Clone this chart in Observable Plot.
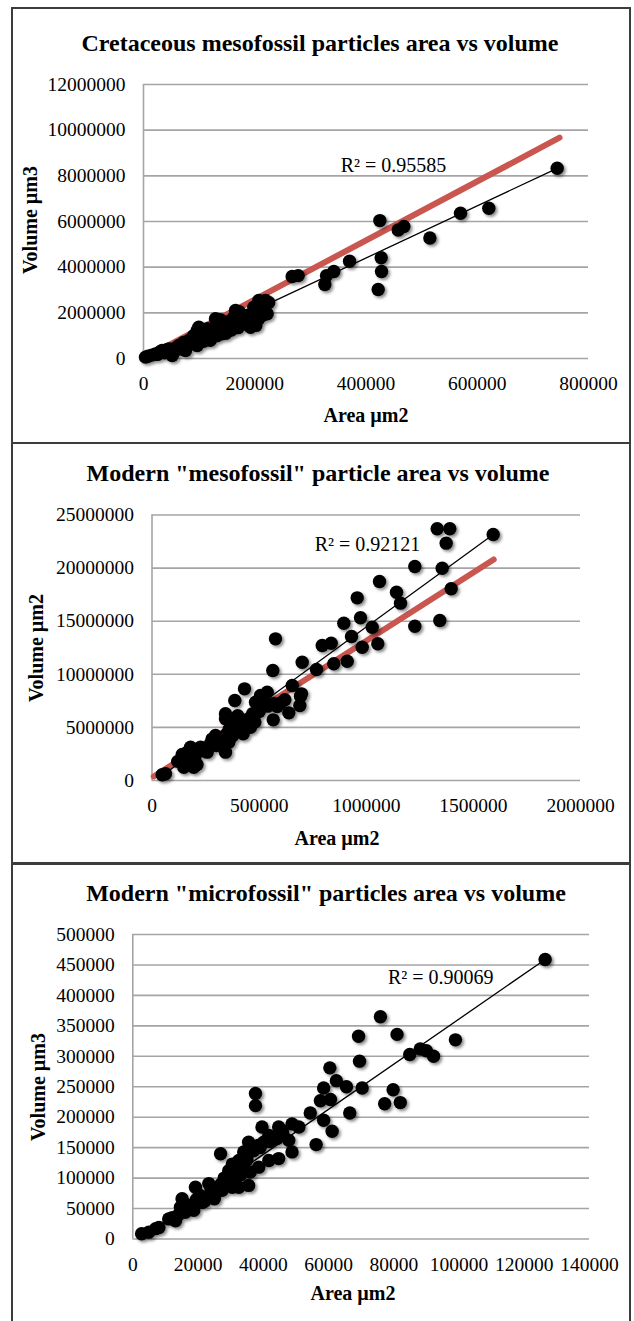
<!DOCTYPE html>
<html><head><meta charset="utf-8">
<script src="https://cdn.jsdelivr.net/npm/d3@7"></script>
<script src="https://cdn.jsdelivr.net/npm/@observablehq/plot@0.6"></script>
<style>
html,body{margin:0;padding:0;background:#fff}
body{width:634px;height:1321px;position:relative;overflow:hidden;font-family:"Liberation Serif","Times New Roman",serif;color:#000}
.frame{position:absolute;left:11px;width:620px;border:2px solid #3c3c3c;box-sizing:border-box}
.title{position:absolute;font-weight:bold;font-size:24px;white-space:nowrap;transform:translate(-50%,-50%)}
.xt{position:absolute;font-weight:bold;font-size:20px;white-space:nowrap;transform:translate(-50%,-50%)}
.yt{position:absolute;font-weight:bold;font-size:20px;white-space:nowrap;transform:translate(-50%,-50%) rotate(-90deg)}
.chart{position:absolute;left:0}
.chart svg, .chart svg g, .chart svg text{font-family:"Liberation Serif","Times New Roman",serif !important;font-variant:normal !important;font-variant-numeric:normal !important}
.chart g[aria-label="dot"]{filter:drop-shadow(2px 2.5px 1.5px rgba(0,0,0,0.45))}
</style>
</head><body>
<div class="frame" style="top:7px;height:437px"></div>
<div class="frame" style="top:442px;height:423px"></div>
<div class="frame" style="top:862px;height:480px"></div>
<div id="c1" class="chart" style="top:60px"></div>
<div id="c2" class="chart" style="top:490px"></div>
<div id="c3" class="chart" style="top:910px"></div>
<div class="title" style="left:320px;top:43px">Cretaceous mesofossil particles area vs volume</div>
<div class="title" style="left:318px;top:473px">Modern "mesofossil" particle area vs volume</div>
<div class="title" style="left:326px;top:893px">Modern "microfossil" particles area vs volume</div>
<div class="xt" style="left:366px;top:415px">Area µm2</div>
<div class="xt" style="left:337px;top:838px">Area µm2</div>
<div class="xt" style="left:353px;top:1293px">Area µm2</div>
<div class="yt" style="left:30px;top:220px">Volume µm3</div>
<div class="yt" style="left:36px;top:648px">Volume µm2</div>
<div class="yt" style="left:38px;top:1087px">Volume µm3</div>
<script>
// ---- Panel 1: Cretaceous mesofossil ----
const area1 = [3600, 8000, 15000, 21600, 25000, 28000, 30000, 33600, 38000, 40000, 42000, 45500, 50000, 51600, 55000, 58000, 60000, 63500, 66000, 70000, 72000, 75500, 78000, 81400, 85000, 88000, 90000, 93000, 96500, 96500, 99400, 100000, 102000, 105000, 108000, 111500, 115000, 118000, 120000, 123500, 126000, 129400, 132000, 135000, 138000, 141400, 145000, 148000, 150000, 153400, 158000, 160000, 162000, 165400, 168400, 170000, 172000, 175000, 178000, 183400, 185000, 188000, 192300, 195000, 198300, 200000, 202000, 207300, 207300, 212000, 215000, 219300, 222300, 225000, 267300, 278100, 326000, 329000, 342100, 370400, 421900, 424900, 427300, 427900, 457900, 468000, 514800, 569900, 620800, 743700];
const vol1 = [60000, 100000, 150000, 200000, 180000, 250000, 300000, 350000, 250000, 300000, 380000, 420000, 400000, 130000, 300000, 450000, 500000, 570000, 420000, 600000, 700000, 350000, 550000, 790000, 650000, 850000, 1000000, 800000, 570000, 1230000, 1370000, 900000, 1100000, 1200000, 750000, 1000000, 1300000, 1100000, 800000, 930000, 1200000, 1740000, 1000000, 1500000, 1700000, 1080000, 1300000, 1100000, 1600000, 1370000, 1250000, 1500000, 1800000, 2100000, 1810000, 1350000, 2050000, 1900000, 1600000, 1660000, 1500000, 1900000, 1370000, 1700000, 2250000, 2000000, 1450000, 2540000, 1740000, 2300000, 1900000, 2540000, 1960000, 2450000, 3590000, 3630000, 3240000, 3630000, 3810000, 4260000, 3020000, 6040000, 4410000, 3810000, 5630000, 5780000, 5280000, 6360000, 6580000, 8330000];
const trend1Area = [15000, 743700], trend1Vol = [0, 8330000];
const red1Area = [3000, 748000], red1Vol = [40000, 9670000];
const xTicks1 = [0, 200000, 400000, 600000, 800000];
const yTicks1 = [0, 2000000, 4000000, 6000000, 8000000, 10000000, 12000000];
const r2Label1 = "R² = 0.95585";

// ---- Panel 2: Modern mesofossil ----
const area2 = [47600, 63000, 120000, 141000, 148400, 160000, 164300, 179700, 179700, 195100, 200000, 210000, 226400, 240000, 250000, 257600, 273000, 280000, 296300, 300000, 304300, 320000, 330000, 335200, 343000, 343000, 343000, 350000, 358500, 360000, 366400, 375000, 386500, 390000, 397700, 400000, 413000, 420000, 425700, 431700, 440000, 450000, 459700, 470000, 480000, 483100, 500000, 506400, 520000, 537700, 540000, 563800, 565700, 568500, 576400, 584300, 600000, 620000, 638500, 654400, 689900, 693100, 697800, 701000, 767800, 794400, 836400, 848500, 895200, 911100, 931200, 957800, 973200, 981100, 1027800, 1053900, 1061800, 1141200, 1159900, 1226700, 1226700, 1331000, 1343300, 1354400, 1373000, 1390000, 1396500, 1592500];
const vol2 = [540000, 630000, 1800000, 2450000, 1250000, 2600000, 1570000, 3140000, 2200000, 1250000, 2200000, 1500000, 3140000, 2800000, 3000000, 2670000, 3460000, 3900000, 4240000, 3300000, 3610000, 3800000, 3300000, 4080000, 6280000, 5810000, 2670000, 4400000, 3610000, 4800000, 5340000, 4200000, 7530000, 5000000, 5960000, 6100000, 5020000, 5500000, 4400000, 8630000, 5300000, 5800000, 5020000, 6300000, 5500000, 7370000, 6500000, 8000000, 7500000, 8310000, 7000000, 10360000, 5710000, 7220000, 13340000, 6970000, 7300000, 7600000, 6370000, 8950000, 7060000, 7940000, 8160000, 11140000, 10450000, 12710000, 12930000, 10990000, 14810000, 11230000, 13560000, 17200000, 15320000, 12550000, 14430000, 12870000, 18740000, 17730000, 16700000, 20150000, 14530000, 23700000, 15070000, 19990000, 22350000, 23700000, 18050000, 23160000];
const trend2Area = [47000, 1592600], trend2Vol = [450000, 23160000];
const red2Area = [8000, 1595000], red2Vol = [380000, 20810000];
const xTicks2 = [0, 500000, 1000000, 1500000, 2000000];
const yTicks2 = [0, 5000000, 10000000, 15000000, 20000000, 25000000];
const r2Label2 = "R² = 0.92121";

// ---- Panel 3: Modern microfossil ----
const area3 = [2700, 4900, 7000, 8000, 11000, 12100, 13100, 14000, 14600, 15100, 16000, 16100, 17000, 18200, 18700, 19200, 19500, 20500, 21300, 22000, 23300, 23300, 24000, 25000, 25300, 26000, 26900, 27000, 27400, 28000, 28400, 29000, 29400, 30000, 30500, 30500, 31000, 31500, 32000, 32500, 32500, 33000, 34000, 34000, 35000, 35500, 35500, 36000, 37000, 37600, 37600, 38600, 38600, 39000, 39600, 40100, 41700, 41700, 42000, 44200, 44700, 44700, 45800, 46000, 47800, 48800, 48800, 50900, 54400, 56200, 57500, 58500, 58500, 60400, 60600, 61100, 62400, 65500, 66500, 69200, 69500, 70300, 75900, 77200, 79800, 81000, 82000, 84900, 88100, 90000, 92200, 98900, 126400];
const vol3 = [8500, 11000, 17000, 19000, 33000, 35000, 30000, 40000, 52000, 66000, 58000, 44000, 48000, 55000, 47000, 85000, 65000, 72000, 60000, 62000, 91000, 69000, 80000, 66000, 74000, 82000, 140000, 90000, 80000, 100000, 96000, 88000, 112000, 105000, 123000, 85000, 96000, 107000, 115000, 129000, 85000, 105000, 143000, 120000, 130000, 159000, 88000, 110000, 145000, 239000, 219000, 154000, 118000, 150000, 184000, 159000, 170000, 129000, 160000, 165000, 184000, 132000, 178000, 172000, 162000, 189000, 143000, 184000, 207000, 155000, 227000, 248000, 195000, 281000, 229000, 177000, 260000, 250000, 207000, 333000, 292000, 248000, 365000, 222000, 245000, 336000, 224000, 303000, 312000, 309000, 300000, 327000, 459000];
const trend3Area = [3000, 126400], trend3Vol = [1700, 459000];
const xTicks3 = [0, 20000, 40000, 60000, 80000, 100000, 120000, 140000];
const yTicks3 = [0, 50000, 100000, 150000, 200000, 250000, 300000, 350000, 400000, 450000, 500000];
const r2Label3 = "R² = 0.90069";

const pts = (xs, ys) => xs.map((x, i) => ({x, y: ys[i]}));
const fmt = d3.format("d");
const SERIF = '"Liberation Serif","Times New Roman",serif';

function panel(o) {
  const marks = [
    Plot.gridY(o.yTicks, {stroke: "#a5a5a5", strokeOpacity: 1, strokeWidth: 1.6}),
    Plot.ruleX([0], {stroke: "#a5a5a5", strokeWidth: 1.6})
  ];
  if (o.red) marks.push(Plot.line(o.red, {x: "x", y: "y", stroke: "#c9574f", strokeWidth: 6, strokeLinecap: "round"}));
  marks.push(Plot.line(o.trend, {x: "x", y: "y", stroke: "#000", strokeWidth: 1.3}));
  marks.push(Plot.dot(o.data, {x: "x", y: "y", r: 6.7, fill: "#000", stroke: "none"}));
  marks.push(Plot.text([o.r2], {frameAnchor: "top-left", dx: o.r2dx, dy: o.r2dy, text: d => d, fontSize: 20, fontFamily: SERIF, textAnchor: "middle", fill: "#000"}));
  marks.push(Plot.axisX(o.xTicks, {tickSize: 0, tickPadding: 18, tickFormat: fmt, label: null, fontSize: 19.5, fontFamily: SERIF, fontVariant: "normal"}));
  marks.push(Plot.axisY(o.yTicks, {tickSize: 0, tickPadding: 18, tickFormat: fmt, label: null, fontSize: 19.5, fontFamily: SERIF, fontVariant: "normal"}));
  return Plot.plot({
    width: 634, height: o.height,
    marginLeft: o.ml, marginRight: o.mr, marginTop: o.mt, marginBottom: o.mb,
    style: {fontFamily: SERIF, fontSize: "19.5px", color: "#000", background: "transparent", overflow: "visible"},
    x: {domain: [o.xTicks[0], o.xTicks[o.xTicks.length - 1]]},
    y: {domain: [o.yTicks[0], o.yTicks[o.yTicks.length - 1]]},
    marks
  });
}

document.getElementById("c1").append(panel({
  data: pts(area1, vol1), trend: pts(trend1Area, trend1Vol), red: pts(red1Area, red1Vol),
  xTicks: xTicks1, yTicks: yTicks1, r2: r2Label1, r2dx: 250, r2dy: 73,
  height: 340, ml: 143, mr: 46, mt: 24, mb: 42
}));
document.getElementById("c2").append(panel({
  data: pts(area2, vol2), trend: pts(trend2Area, trend2Vol), red: pts(red2Area, red2Vol),
  xTicks: xTicks2, yTicks: yTicks2, r2: r2Label2, r2dx: 215.5, r2dy: 22,
  height: 335, ml: 151.5, mr: 54, mt: 24.5, mb: 45
}));
document.getElementById("c3").append(panel({
  data: pts(area3, vol3), trend: pts(trend3Area, trend3Vol), red: null,
  xTicks: xTicks3, yTicks: yTicks3, r2: r2Label3, r2dx: 308, r2dy: 35,
  height: 375, ml: 132.3, mr: 45, mt: 24, mb: 46.5
}));
</script>
</body></html>
